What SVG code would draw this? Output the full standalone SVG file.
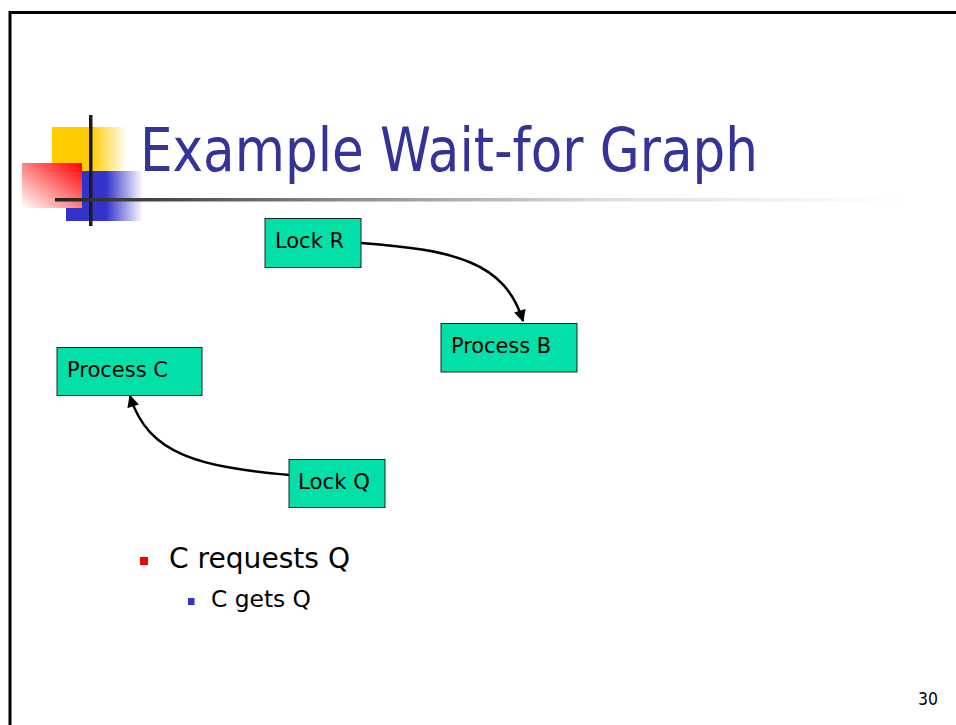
<svg xmlns="http://www.w3.org/2000/svg" width="956" height="725" viewBox="0 0 956 725">
<defs>
<linearGradient id="gy" x1="52" y1="0" x2="127" y2="0" gradientUnits="userSpaceOnUse"><stop offset="0" stop-color="#FFCC00"/><stop offset="0.52" stop-color="#FFCC00"/><stop offset="1" stop-color="#FFCC00" stop-opacity="0"/></linearGradient>
<linearGradient id="gb" x1="66" y1="0" x2="143" y2="0" gradientUnits="userSpaceOnUse"><stop offset="0" stop-color="#3333CC"/><stop offset="0.52" stop-color="#3333CC"/><stop offset="1" stop-color="#3333CC" stop-opacity="0"/></linearGradient>
<linearGradient id="gr" x1="1" y1="0" x2="0" y2="1"><stop offset="0" stop-color="#FF0000"/><stop offset="1" stop-color="#FFFFFF"/></linearGradient>
<linearGradient id="gl" x1="55" y1="0" x2="900" y2="0" gradientUnits="userSpaceOnUse"><stop offset="0" stop-color="#222"/><stop offset="0.33" stop-color="#888"/><stop offset="0.65" stop-color="#ddd"/><stop offset="1" stop-color="#fff"/></linearGradient>
<marker id="ah" viewBox="0 0 10 10" refX="9" refY="5" markerWidth="13" markerHeight="12" markerUnits="userSpaceOnUse" orient="auto"><path d="M0,0 L10,5 L0,10 z" fill="#000"/></marker>
<style>
.node rect{fill:#00E0A8;stroke:#222;stroke-width:1}
.node text{font-family:"DejaVu Sans",Tahoma,sans-serif;font-size:21.5px;fill:#000}
.edge{fill:none;stroke:#000;stroke-width:2.5}
.title{font-family:"DejaVu Sans",Tahoma,sans-serif;font-size:60px;fill:#333399}
.body{font-family:"DejaVu Sans",Tahoma,sans-serif;fill:#000}
</style>
</defs>
<rect width="956" height="725" fill="#fff"/>
<path d="M10,725 V12.5 H956" fill="none" stroke="#000" stroke-width="3"/>
<g id="logo">
<rect x="52" y="127" width="75" height="44" fill="url(#gy)"/>
<rect x="66" y="171" width="77" height="50" fill="url(#gb)"/>
<rect x="22" y="163" width="60" height="45" fill="url(#gr)"/>
<rect x="89" y="115" width="3.5" height="111" fill="#1a1a1a"/>
<rect x="55" y="198" width="845" height="3.5" fill="url(#gl)"/>
</g>
<text class="title" x="140" y="171" textLength="618" lengthAdjust="spacingAndGlyphs">Example Wait-for Graph</text>
<g id="connectors">
<path class="edge" d="M361,243 C455,250 505,262 523,321" marker-end="url(#ah)"/>
<path class="edge" d="M290,475 C200,467 148,455 130,396" marker-end="url(#ah)"/>
</g>
<g id="lockR" class="node"><rect x="265" y="218.5" width="96" height="49"/><text x="275" y="248" textLength="69" lengthAdjust="spacingAndGlyphs">Lock R</text></g>
<g id="processB" class="node"><rect x="441" y="323.5" width="136" height="48.5"/><text x="451" y="353" textLength="100" lengthAdjust="spacingAndGlyphs">Process B</text></g>
<g id="processC" class="node"><rect x="57" y="347.5" width="145" height="48"/><text x="67" y="377" textLength="101" lengthAdjust="spacingAndGlyphs">Process C</text></g>
<g id="lockQ" class="node"><rect x="289" y="459.5" width="96" height="48"/><text x="298" y="489" textLength="72" lengthAdjust="spacingAndGlyphs">Lock Q</text></g>
<rect x="140" y="557" width="8" height="8" fill="#FF0000"/>
<text class="body" x="169" y="568" font-size="28.5" textLength="181" lengthAdjust="spacingAndGlyphs">C requests Q</text>
<rect x="188" y="598" width="6.5" height="7" fill="#3333CC"/>
<text class="body" x="211" y="607" font-size="23" textLength="100" lengthAdjust="spacingAndGlyphs">C gets Q</text>
<text class="body" x="918" y="705" font-size="18" textLength="20" lengthAdjust="spacingAndGlyphs">30</text>
</svg>
